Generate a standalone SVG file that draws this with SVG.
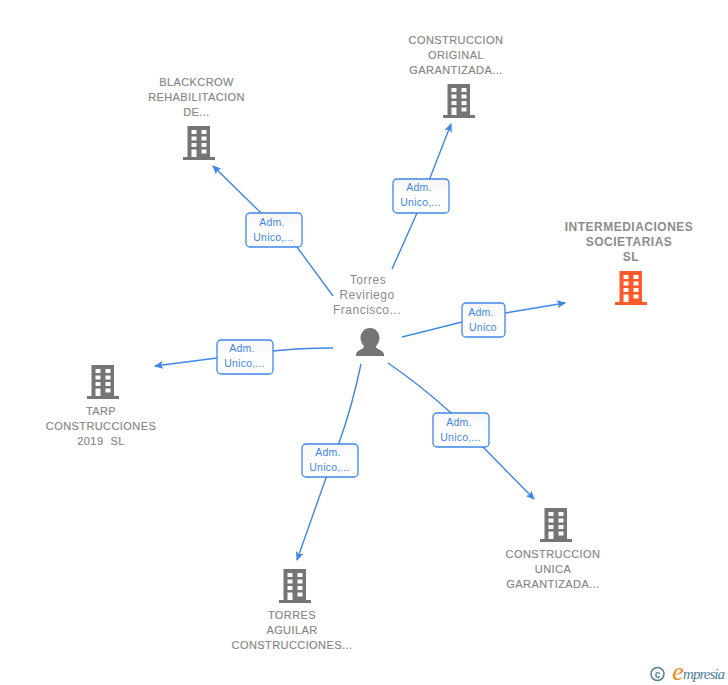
<svg xmlns="http://www.w3.org/2000/svg" width="728" height="685" viewBox="0 0 728 685">
<style>
text{font-family:"Liberation Sans",Arial,sans-serif;text-anchor:middle}
.n{font-size:11px;fill:#858585;stroke:#858585;stroke-width:.15px;letter-spacing:.42px}
.h{font-size:12px;font-weight:bold;fill:#8c8c8c;letter-spacing:.5px}
.p{font-size:12px;fill:#8c8c8c;letter-spacing:.5px}
.c{fill:none;stroke:#3f86e8;stroke-width:1.4;stroke-linejoin:round}
.b{fill:url(#g);stroke:#3f86e8;stroke-width:1.3}
.l{font-size:10.5px;fill:#3f86e8;letter-spacing:.2px}
</style>
<defs>
<linearGradient id="g" x1="0" y1="0" x2="0" y2="1"><stop offset="0" stop-color="#f6f6f6"/><stop offset=".5" stop-color="#fff"/></linearGradient>
<marker id="a" markerWidth="10" markerHeight="10" refX="8" refY="4" orient="auto" markerUnits="userSpaceOnUse"><path d="M0 0L9 4L0 8L2 4Z" fill="#3f86e8"/></marker>
<symbol id="bld" width="32" height="35" viewBox="0 0 32 35"><path fill-rule="evenodd" d="M4.500 0H27V31H32V34H0V31H4.500ZM8.500 4V8H13.500V4ZM18.500 4V8H23.500V4ZM8.500 10.500V14.500H13.500V10.500ZM18.500 10.500V14.500H23.500V10.500ZM8.500 17V21H13.500V17ZM18.500 17V21H23.500V17ZM8.500 23.500V31H13.500V23.500ZM18.500 23.500V27.500H23.500V23.500Z"/></symbol>
</defs>
<g id="connectors">
<path class="c" marker-end="url(#a)" d="M333 296L297 247L260 212L213 166"/>
<path class="c" marker-end="url(#a)" d="M392 269L417 213L430 178L451 124"/>
<path class="c" marker-end="url(#a)" d="M402 337L462 322L505 313L565 303"/>
<path class="c" marker-end="url(#a)" d="M333 348Q300 348 273 351L217 358L155 366"/>
<path class="c" marker-end="url(#a)" d="M361 364Q352 407 339 443L326 478L297 560"/>
<path class="c" marker-end="url(#a)" d="M388 363Q420 385 450 412L483 447L534 499"/>
<rect class="b" x="246" y="213" width="56" height="34" rx="4"/><text class="l" x="272" y="226">Adm.</text><text class="l" x="273.500" y="241">Unico,...</text>
<rect class="b" x="393" y="179" width="56" height="34" rx="4"/><text class="l" x="419" y="191">Adm.</text><text class="l" x="420.500" y="206">Unico,...</text>
<rect class="b" x="462" y="303" width="43" height="34" rx="4"/><text class="l" x="481" y="316">Adm.</text><text class="l" x="483" y="331">Unico</text>
<rect class="b" x="217" y="340" width="56" height="34" rx="4"/><text class="l" x="242" y="352">Adm.</text><text class="l" x="244.500" y="367">Unico,...</text>
<rect class="b" x="302" y="444" width="56" height="33" rx="4"/><text class="l" x="328" y="456">Adm.</text><text class="l" x="329.500" y="471">Unico,...</text>
<rect class="b" x="433" y="413" width="56" height="34" rx="4"/><text class="l" x="459" y="426">Adm.</text><text class="l" x="460.500" y="441">Unico,...</text>
</g>
<g id="person">
<text class="p"><tspan x="368" y="284">Torres</tspan><tspan x="367" y="299">Reviriego</tspan><tspan x="367" y="314">Francisco...</tspan></text>
<path fill="#757575" d="M370 328C376 328 379.500 333 379.500 338C379.500 342 377 345 376 346.500C376 349 383 350 384 354V356H356V354C357 350 364 349 364 346.500C363 345 360.500 342 360.500 338C360.500 333 364 328 370 328Z"/>
</g>
<g id="n1"><text class="n"><tspan x="456" y="44">CONSTRUCCION</tspan><tspan x="456" y="59">ORIGINAL</tspan><tspan x="456" y="74">GARANTIZADA...</tspan></text><use href="#bld" x="443" y="84" fill="#757575"/></g>
<g id="n2"><text class="n"><tspan x="196.500" y="86">BLACKCROW</tspan><tspan x="196.500" y="101">REHABILITACION</tspan><tspan x="196.500" y="116">DE...</tspan></text><use href="#bld" x="183" y="126" fill="#757575"/></g>
<g id="n3"><text class="h"><tspan x="629" y="231">INTERMEDIACIONES</tspan><tspan x="629" y="246">SOCIETARIAS</tspan><tspan x="631" y="261">SL</tspan></text><use href="#bld" x="615" y="271" fill="#ff5a2b"/></g>
<g id="n4"><use href="#bld" x="87" y="365" fill="#757575"/><text class="n"><tspan x="101" y="415">TARP</tspan><tspan x="101" y="430">CONSTRUCCIONES</tspan><tspan x="101" y="445" xml:space="preserve">2019  SL</tspan></text></g>
<g id="n5"><use href="#bld" x="279" y="569" fill="#757575"/><text class="n"><tspan x="292" y="619">TORRES</tspan><tspan x="292" y="634">AGUILAR</tspan><tspan x="292" y="649">CONSTRUCCIONES...</tspan></text></g>
<g id="n6"><use href="#bld" x="540" y="508" fill="#757575"/><text class="n"><tspan x="553" y="558">CONSTRUCCION</tspan><tspan x="553" y="573">UNICA</tspan><tspan x="553" y="588">GARANTIZADA...</tspan></text></g>
<g id="logo">
<circle cx="657.500" cy="674" r="6.500" fill="none" stroke="#4f7f96" stroke-width="1.500"/>
<text x="657.500" y="677.500" style="font-size:10px;font-weight:bold;fill:#4f7f96">c</text>
<text x="678" y="680" style="font-size:26px;font-style:italic;fill:#f08a1d;font-family:'Liberation Serif',serif">e</text>
<text x="704" y="679" textLength="42" style="font-size:15px;font-style:italic;fill:#4f7f96;font-family:'Liberation Serif',serif">mpresia</text>
</g>
</svg>
